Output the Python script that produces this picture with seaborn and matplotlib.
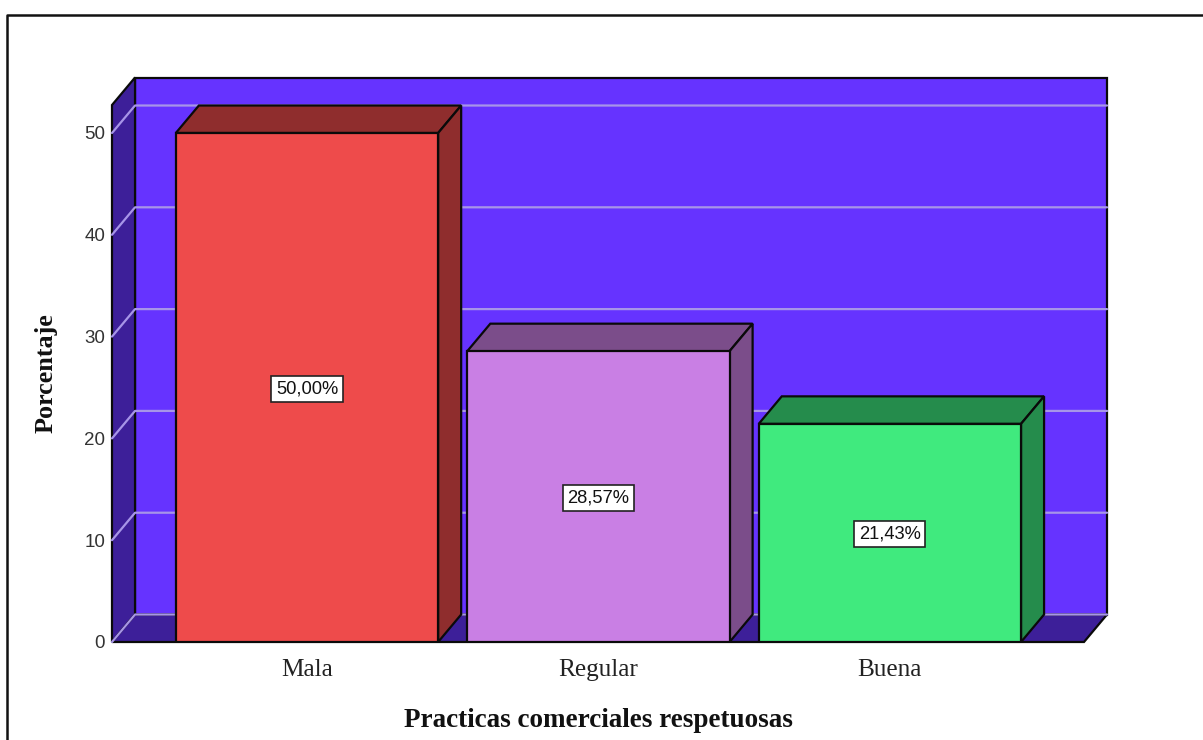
import matplotlib
matplotlib.use("Agg")
import matplotlib.pyplot as plt
from matplotlib.patches import Polygon
from matplotlib.lines import Line2D
import pandas as pd
import seaborn as sns

categories = ["Mala", "Regular", "Buena"]
percentages = [50.00, 28.57, 21.43]
front_colors = ["#EE4B4B", "#C97FE4", "#40EA7E"]
shade_colors = ["#8F2D2D", "#7B4D8A", "#258C4C"]
y_ticks = [0, 10, 20, 30, 40, 50]
x_title = "Practicas comerciales respetuosas"
y_title = "Porcentaje"

WALL = "#6633FF"
WALL_DARK = "#3D1F99"
GRID = "#A795E8"
INK = "#0A0A0A"

W, H = 1203, 740
sns.set_theme(style="white")
plt.rcParams["font.family"] = ["Liberation Sans", "DejaVu Sans"]

fig = plt.figure(figsize=(W / 100, H / 100), dpi=100, facecolor="white")
ax = fig.add_axes([112 / W, 1 - 642 / H, 972 / W, 537 / H])

# Depth of the extruded box, in data units
XMIN, XMAX = -0.669, 2.666
YMAX = 52.75
DX = 0.079
DY = 2.70
ax.set_xlim(XMIN, XMAX)
ax.set_ylim(0, YMAX)


def face(points, color, z):
    ax.add_patch(Polygon(points, closed=True, facecolor=color, edgecolor=INK,
                         linewidth=1.6, joinstyle="miter", clip_on=False, zorder=z))


# Back wall, left wall and floor of the box
face([(XMIN + DX, DY), (XMAX + DX, DY), (XMAX + DX, YMAX + DY), (XMIN + DX, YMAX + DY)], WALL, 0.5)
face([(XMIN, 0), (XMIN + DX, DY), (XMIN + DX, YMAX + DY), (XMIN, YMAX)], WALL_DARK, 0.6)
face([(XMIN, 0), (XMAX, 0), (XMAX + DX, DY), (XMIN + DX, DY)], WALL_DARK, 0.6)

# Grid lines wrap from the left wall onto the back wall
for t in y_ticks:
    ax.add_line(Line2D([XMIN, XMIN + DX, XMAX + DX], [t, t + DY, t + DY], color=GRID,
                       linewidth=1.6, clip_on=False, zorder=0.8))

frame = pd.DataFrame({"categoria": categories, "porcentaje": percentages})
sns.barplot(data=frame, x="categoria", y="porcentaje", hue="categoria", order=categories,
            palette=dict(zip(categories, front_colors)), width=0.9, dodge=False, saturation=1,
            edgecolor=INK, linewidth=1.6, legend=False, ax=ax, zorder=3)
ax.set_xlim(XMIN, XMAX)
ax.set_ylim(0, YMAX)

# Top and side faces of each bar, with its value label
for i, (value, shade) in enumerate(zip(percentages, shade_colors)):
    x0, x1 = i - 0.45, i + 0.45
    face([(x0, value), (x1, value), (x1 + DX, value + DY), (x0 + DX, value + DY)], shade, 2)
    face([(x1, 0), (x1 + DX, DY), (x1 + DX, value + DY), (x1, value)], shade, 2)
    ax.annotate(f"{value:.2f}%".replace(".", ","), (i, value / 2), xytext=(0, -1),
                textcoords="offset points", ha="center", va="center",
                fontsize=13.2, color="#111111", zorder=5,
                bbox=dict(boxstyle="square,pad=0.25", facecolor="white",
                          edgecolor="#222222", linewidth=1.2))

for side in ax.spines.values():
    side.set_visible(False)
ax.patch.set_visible(False)

ax.set_yticks(y_ticks)
ax.set_xticks(range(len(categories)))
ax.set_xticklabels(categories, family="Liberation Serif", fontsize=18.2, color="#222222")
ax.tick_params(axis="both", length=0)
ax.tick_params(axis="x", pad=12.5)
ax.tick_params(axis="y", pad=5, labelsize=13.5, labelcolor="#333333")
ax.set_xlabel(x_title, family="Liberation Serif", fontweight="bold", fontsize=19.5,
              color="#111111", labelpad=19.5)
ax.set_ylabel(y_title, family="Liberation Serif", fontweight="bold", fontsize=18.8,
              color="#111111", labelpad=19)

# Outer chart frame, open on the right and at the bottom
fig.add_artist(Line2D([7 / W, 7 / W, 1], [0, 1 - 14.5 / H, 1 - 14.5 / H],
                      color="#111111", linewidth=1.8, transform=fig.transFigure))

fig.savefig("out.png", dpi=100)
